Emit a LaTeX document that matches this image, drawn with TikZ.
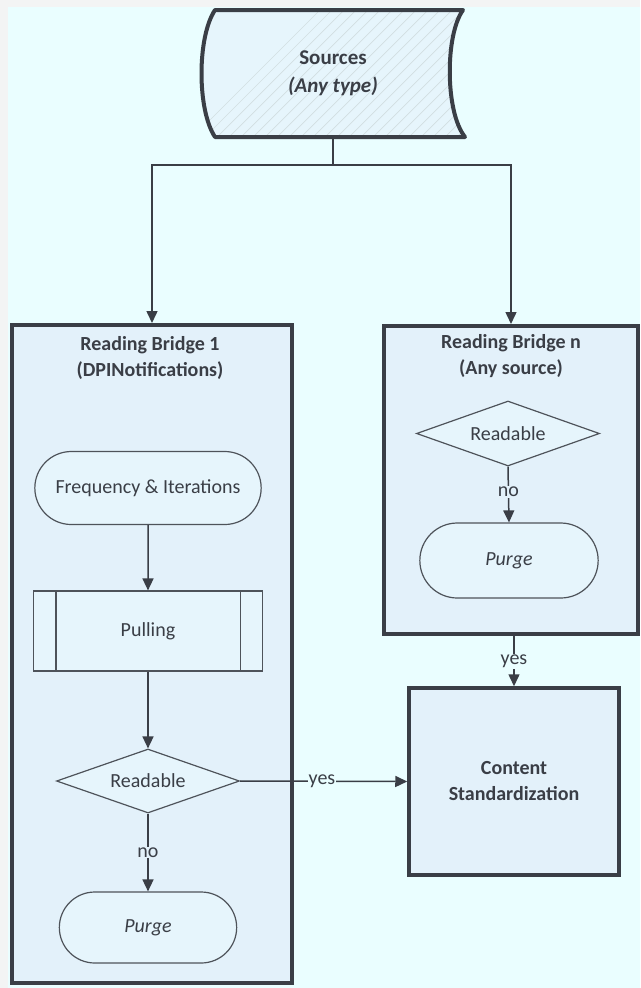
\documentclass[tikz,border=0pt]{standalone}
\usepackage{fontspec}
\setmainfont{Carlito}
\usetikzlibrary{arrows.meta,shapes.geometric,shapes.misc,shapes.multipart}
\definecolor{bgc}{HTML}{EAFEFF}
\definecolor{edge}{HTML}{F3F4F4}
\definecolor{boxfill}{HTML}{E3F1FA}
\definecolor{shapefill}{HTML}{E6F5FC}
\definecolor{dark}{HTML}{3A3E46}
\definecolor{thinc}{HTML}{4E535A}
\definecolor{hatch}{HTML}{D2DEE2}
\tikzset{
  txt/.style={font=\fontsize{20}{26}\selectfont, text=dark},
  bigbox/.style={draw=dark, line width=4pt, fill=boxfill},
  term/.style={draw=thinc, line width=1.2pt, fill=shapefill, rounded rectangle, txt},
  decis/.style={draw=thinc, line width=1.2pt, fill=shapefill, diamond, aspect=2.85, inner sep=0pt, txt},
  proc/.style={draw=thinc, line width=1.2pt, fill=shapefill, rectangle, txt},
  conn/.style={draw=dark, line width=1.5pt, -{Triangle[width=11pt,length=12pt]}},
  plain/.style={draw=dark, line width=1.5pt},
  lbl/.style={txt, inner sep=1pt},
}
\begin{document}
\begin{tikzpicture}[x=1pt,y=-1pt]
\useasboundingbox (0,0) rectangle (640,988);
\fill[edge] (0,0) rectangle (640,988);
\fill[bgc] (8,7) rectangle (640,988);

% Sources shape
\path[fill=shapefill] (215,10) -- (463,10) .. controls (445,35) and (445,112) .. (465,137) -- (215,137) .. controls (197,110) and (197,37) .. (215,10) -- cycle;
\begin{scope}
\clip (215,10) -- (463,10) .. controls (445,35) and (445,112) .. (465,137) -- (215,137) .. controls (197,110) and (197,37) .. (215,10) -- cycle;
\foreach \k in {0,12,...,420} {
  \draw[hatch, line width=0.7pt] (180+\k,150) -- (180+\k+150,0);
}
\end{scope}
\draw[draw=dark, line width=4pt, line join=round] (215,10) -- (463,10) .. controls (445,35) and (445,112) .. (465,137) -- (215,137) .. controls (197,110) and (197,37) .. (215,10) -- cycle;
\node[txt, font=\fontsize{21}{28}\selectfont\bfseries, align=center, minimum width=250pt, minimum height=127pt, inner sep=0pt] (src) at (333,73.5) {Sources\\\textit{(Any type)}};

% Bridge boxes
\node[bigbox, minimum width=280pt, minimum height=658pt, inner sep=0pt] (rb1) at (152,654) {};
\node[txt, font=\fontsize{20}{26}\selectfont\bfseries, align=center] (rb1t) at (150,358) {Reading Bridge 1\\(DPINotifications)};
\node[bigbox, minimum width=254pt, minimum height=308pt, inner sep=0pt] (rbn) at (511,480) {};
\node[txt, font=\fontsize{20}{26}\selectfont\bfseries, align=center] (rbnt) at (511,356) {Reading Bridge n\\(Any source)};

% Content box
\node[draw=dark, line width=3.5pt, fill=boxfill, minimum width=210pt, minimum height=187pt, inner sep=0pt] (cs) at (514,781.5) {};
\node[txt, font=\fontsize{20}{26}\selectfont\bfseries, align=center] (cst) at (514,781) {Content\\Standardization};

% Left flow
\node[term, minimum width=233pt, minimum height=73pt] (freq) at (148,488) {Frequency \& Iterations};
\node[proc, minimum width=229pt, minimum height=80pt] (pull) at (148,631) {Pulling};
\draw[draw=thinc, line width=1.2pt] ([xshift=23pt]pull.north west) -- ([xshift=23pt]pull.south west);
\draw[draw=thinc, line width=1.2pt] ([xshift=-23pt]pull.north east) -- ([xshift=-23pt]pull.south east);
\node[decis, minimum width=183pt, minimum height=64pt] (rd1) at (148,781) {Readable};
\node[term, minimum width=184pt, minimum height=71pt, font=\fontsize{20}{26}\selectfont\itshape] (pg1) at (148,927.5) {Purge};

% Right flow
\node[decis, minimum width=183pt, minimum height=65pt] (rdn) at (508,433.5) {Readable};
\node[term, minimum width=185pt, minimum height=75pt, font=\fontsize{20}{26}\selectfont\itshape] (pgn) at (509,560.5) {Purge};

% Connectors
\coordinate (j) at (333,165);
\draw[plain] (src.south) -- (j);
\draw[conn] (j) -| (rb1.north);
\draw[conn] (j) -| (rbn.north);
\draw[conn] (freq) -- (pull);
\draw[conn] (pull) -- (rd1);
\draw[conn] (rd1.south) -- node[lbl, fill=boxfill, pos=0.5] {no} (pg1.north);
\draw[conn] (rd1.east) -- node[lbl, fill=bgc, pos=0.49] {yes} (cs.west);
\draw[conn] (rdn.south) -- node[lbl, fill=boxfill, pos=0.45] {no} (pgn.north);
\draw[conn] (rbn.south -| cs.north) -- node[lbl, fill=bgc, pos=0.5] {yes} (cs.north);
\end{tikzpicture}
\end{document}
